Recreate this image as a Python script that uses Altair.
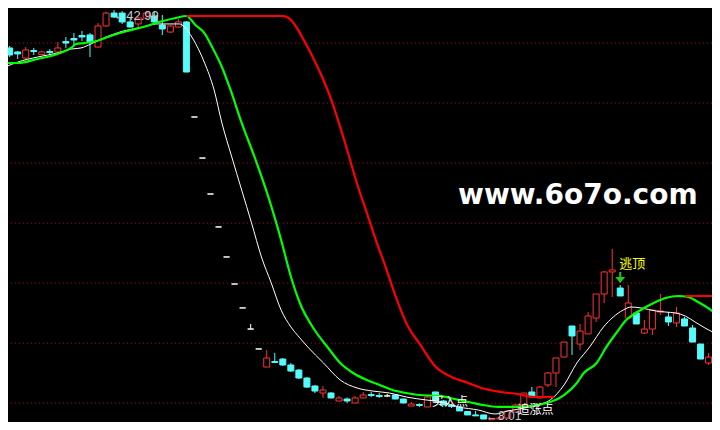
import altair as alt
import pandas as pd

# ---------------- data (prices) ----------------
opens = [39.75, 39.41, 38.89, 39.53, 39.19, 39.45, 39.41, 40.30, 40.56, 40.81,
         40.86, 39.83, 41.63, 42.73, 42.73, 41.97, 41.80, 42.31, 42.48, 41.71,
         41.11, 41.54, 41.97, 33.86, 30.36, 27.29, 24.48, 21.92, 19.61, 17.57,
         15.77, 14.07, 12.53, 13.00, 13.21, 12.70, 12.27, 11.59, 10.91, 10.31,
         10.31, 9.63, 9.80, 9.46, 9.89, 10.18, 10.10, 10.06, 10.14, 9.80,
         9.20, 9.33, 9.12, 10.40, 9.63, 9.25, 9.12, 8.73, 8.44, 8.44,
         8.03, 8.09, 8.18, 8.69, 9.29, 10.40, 9.89, 11.00, 12.02, 13.38,
         16.03, 14.49, 15.35, 16.71, 18.76, 20.64, 19.27, 16.71, 17.14, 15.43,
         15.77, 17.22, 16.80, 16.29, 16.63, 15.86, 14.49, 12.87]
highs = [39.92, 39.49, 39.83, 39.75, 39.49, 39.66, 40.26, 40.69, 41.03, 41.20,
         41.03, 41.88, 42.86, 42.99, 42.90, 42.31, 42.39, 42.88, 42.82, 42.56,
         41.71, 42.22, 42.05, 33.86, 30.36, 27.29, 24.48, 21.92, 19.61, 17.57,
         16.20, 14.07, 13.98, 13.73, 13.30, 12.87, 12.36, 11.68, 11.00, 10.91,
         10.40, 10.06, 9.93, 10.06, 10.40, 10.40, 10.31, 10.23, 10.16, 9.82,
         9.54, 9.42, 10.14, 10.42, 9.72, 9.37, 9.20, 8.78, 8.78, 8.46,
         8.20, 8.24, 8.86, 9.37, 10.31, 10.82, 10.91, 12.10, 13.30, 14.66,
         16.03, 16.20, 17.22, 18.76, 20.72, 22.60, 19.53, 19.53, 17.31, 16.54,
         17.39, 18.76, 17.22, 17.65, 16.80, 16.11, 14.51, 13.73]
lows = [38.98, 38.81, 38.72, 39.15, 39.15, 39.15, 39.32, 39.75, 40.00, 40.35,
        38.98, 39.80, 41.54, 42.31, 41.80, 41.50, 41.54, 42.22, 41.71, 40.86,
        41.03, 41.50, 37.70, 33.86, 30.36, 27.29, 24.48, 21.92, 19.61, 17.57,
        15.77, 14.07, 12.53, 12.87, 12.62, 12.10, 11.51, 10.74, 10.31, 9.89,
        9.86, 9.63, 9.46, 9.46, 9.89, 9.97, 9.89, 9.97, 9.78, 9.44,
        9.20, 9.12, 9.12, 9.63, 9.29, 9.03, 8.78, 8.44, 8.35, 8.09,
        8.01, 8.05, 8.09, 8.69, 9.20, 9.89, 9.89, 10.82, 10.82, 13.38,
        13.56, 13.98, 15.35, 16.37, 17.99, 18.50, 18.59, 16.71, 16.20, 15.35,
        15.26, 16.97, 16.03, 15.94, 16.03, 14.66, 13.21, 12.70]
closes = [39.15, 39.24, 39.58, 39.45, 39.41, 39.36, 39.75, 40.17, 40.43, 40.69,
          40.26, 41.63, 42.73, 42.39, 41.97, 41.54, 42.31, 42.73, 41.97, 41.37,
          41.63, 41.97, 37.70, 33.86, 30.36, 27.29, 24.48, 21.92, 19.61, 17.57,
          15.77, 14.07, 13.30, 12.92, 12.70, 12.19, 11.59, 10.82, 10.48, 10.57,
          9.89, 9.89, 9.63, 9.89, 10.14, 10.10, 10.01, 10.06, 9.80, 9.46,
          9.37, 9.25, 9.97, 9.63, 9.29, 9.16, 8.78, 8.44, 8.36, 8.09,
          8.12, 8.18, 8.78, 9.29, 10.31, 9.97, 10.82, 12.02, 13.30, 14.66,
          15.18, 15.60, 16.88, 18.76, 20.64, 20.81, 18.59, 17.99, 16.20, 15.77,
          17.39, 17.31, 16.37, 17.14, 16.03, 14.66, 13.21, 13.38]

# white moving line (bar position, price)
white_x = [-0.56, 1.03, 3.48, 5.94, 7.66, 8.88, 10.11, 11.71, 14.17, 16.61,
           18.21, 19.93, 21.15, 21.77, 22.75, 24.22, 25.45, 26.42, 27.65, 28.88,
           30.11, 31.34, 32.56, 33.79, 35.02, 36.12, 37.10, 39.07, 41.15, 43.24,
           45.20, 47.29, 49.37, 51.83, 53.80, 55.88, 58.34, 60.42, 62.01, 64.10,
           65.69, 67.29, 69.01, 70.60, 72.20, 73.91, 75.14, 76.37, 77.35, 78.58,
           80.42, 81.64, 82.87, 84.10, 85.32, 86.55, 87.77]
white_y = [38.13, 38.55, 38.98, 39.32, 39.66, 39.75, 40.09, 40.60, 41.20, 41.54,
           41.80, 41.80, 41.80, 41.54, 40.60, 38.55, 36.16, 33.35, 30.45, 27.63,
           24.82, 21.92, 19.70, 17.39, 15.94, 15.01, 14.24, 12.87, 11.42, 10.74,
           10.48, 10.31, 9.97, 9.72, 9.54, 9.12, 8.86, 8.52, 8.78, 9.03,
           9.29, 9.72, 11.00, 12.87, 14.24, 15.94, 16.80, 17.39, 17.65, 17.57,
           17.31, 17.22, 17.14, 16.88, 16.37, 15.86, 15.43]

# green line
green_x = [-0.56, 1.03, 3.48, 5.94, 7.66, 8.27, 9.25, 10.85, 12.56, 14.17,
           16.61, 19.07, 20.66, 22.01, 23.12, 24.22, 25.20, 26.42, 27.41, 28.88,
           30.48, 32.20, 33.79, 35.02, 36.12, 37.96, 39.56, 41.15, 42.75, 44.47,
           46.06, 47.66, 49.37, 50.96, 53.42, 55.88, 58.34, 60.79, 63.24, 65.69,
           67.29, 69.01, 70.60, 71.46, 73.06, 74.28, 75.51, 76.74, 77.96, 79.19,
           80.42, 81.64, 83.24, 84.47, 85.69, 86.92, 87.77]
green_y = [38.47, 38.47, 38.81, 39.24, 39.75, 40.09, 40.17, 40.35, 40.77, 41.11,
           41.54, 42.05, 42.31, 42.48, 41.71, 41.03, 39.83, 38.13, 36.34, 33.35,
           30.45, 27.04, 23.37, 20.21, 17.99, 15.69, 14.24, 12.87, 12.02, 11.42,
           11.00, 10.57, 10.31, 10.14, 10.06, 9.72, 9.37, 9.12, 9.12, 9.29,
           9.54, 10.14, 11.17, 12.02, 12.87, 14.24, 15.43, 16.54, 17.14, 17.65,
           18.08, 18.42, 18.59, 18.50, 18.08, 17.57, 17.14]

# red line, two segments
red1_x = [22.01, 34.04, 35.02, 35.51, 36.61, 38.33, 40.05, 41.64, 43.37, 44.47,
          45.57, 46.80, 47.90, 49.62, 50.96, 53.05, 55.02, 57.10, 59.19, 61.15,
          63.24, 65.33, 67.79]
red1_y = [42.48, 42.48, 42.14, 41.71, 40.43, 38.13, 35.31, 31.90, 27.89, 25.67,
          23.37, 21.06, 18.84, 15.94, 14.58, 12.53, 11.68, 11.17, 10.65, 10.40,
          10.23, 9.97, 9.97]
red2_x = [84.10, 88.50]
red2_y = [18.59, 18.59]

grid_levels = [40.17, 35.05, 29.93, 24.81, 19.69, 14.57, 9.45]

# annotations
hi_label = {"x": 12.9, "y": 42.44, "text": "←42.99"}
lo_label = {"x": 59.3, "y": 8.39, "text": "←8.01"}
buy_label = {"x": 54.8, "y": 9.54, "text": "买入点"}
chase_label = {"x": 65.45, "y": 8.86, "text": "追涨点"}
top_label = {"x": 77.5, "y": 21.36, "text": "逃顶"}
arrow = {"x": 76.0, "y_top": 20.64, "y_head": 19.95}
watermark = {"x": 70.72, "y": 26.40, "text": "www.6o7o.com"}

# ---------------- chart ----------------
RED = "#ff3333"
CYAN = "#54fcfc"
WHITE = "#ffffff"

kinds = ["up" if c > o else ("down" if c < o else "flat") for o, c in zip(opens, closes)]
candles = pd.DataFrame({"i": list(range(len(opens))), "o": opens, "h": highs,
                        "l": lows, "c": closes, "kind": kinds})

xs = alt.Scale(domain=[0.417, 86.80], nice=False, zero=False)
ys = alt.Scale(domain=[7.838, 43.161], nice=False, zero=False)


def X(f):
    return alt.X(f, type="quantitative", scale=xs, axis=None)


def Y(f):
    return alt.Y(f, type="quantitative", scale=ys, axis=None)


kind_scale = alt.Scale(domain=["up", "down", "flat"], range=[RED, CYAN, WHITE])

grid = alt.Chart(pd.DataFrame({"g": grid_levels})).mark_rule(
    color="#b40000", strokeDash=[1, 3], strokeWidth=1
).encode(y=Y("g"))

wicks = alt.Chart(candles).mark_rule(strokeWidth=1, clip=True).encode(
    x=X("i"), y=Y("l"), y2="h",
    color=alt.Color("kind:N", scale=kind_scale, legend=None),
)

up_bodies = alt.Chart(candles).transform_filter(alt.datum.kind == "up").mark_bar(
    size=6, fill="black", stroke=RED, strokeWidth=1, clip=True
).encode(x=X("i"), y=Y("o"), y2="c")

other_bodies = alt.Chart(candles).transform_filter(alt.datum.kind != "up").mark_bar(
    size=6, strokeWidth=1, clip=True
).encode(
    x=X("i"), y=Y("o"), y2="c",
    fill=alt.Fill("kind:N", scale=kind_scale, legend=None),
    stroke=alt.Stroke("kind:N", scale=kind_scale, legend=None),
)

white_line = alt.Chart(pd.DataFrame({"x": white_x, "y": white_y})).mark_line(
    color=WHITE, strokeWidth=1, interpolate="monotone", clip=True
).encode(x=X("x"), y=Y("y"))

green_line = alt.Chart(pd.DataFrame({"x": green_x, "y": green_y})).mark_line(
    color="#00ff00", strokeWidth=2.2, interpolate="monotone", clip=True
).encode(x=X("x"), y=Y("y"))

red_df = pd.concat([
    pd.DataFrame({"x": red1_x, "y": red1_y, "seg": "a"}),
    pd.DataFrame({"x": red2_x, "y": red2_y, "seg": "b"}),
])
red_line = alt.Chart(red_df).mark_line(
    color="#ff0000", strokeWidth=2.2, interpolate="monotone", clip=True
).encode(x=X("x"), y=Y("y"), detail="seg:N")


def label(d, color, size, font, align="left", baseline="middle", weight="normal"):
    return alt.Chart(pd.DataFrame([d])).mark_text(
        color=color, fontSize=size, font=font, align=align, baseline=baseline,
        fontWeight=weight
    ).encode(x=X("x"), y=Y("y"), text="text:N")


hi_t = label(hi_label, "#c8c8c8", 13, "Liberation Sans")
lo_t = label(lo_label, "#c8c8c8", 12, "Liberation Sans")
buy_t = label(buy_label, WHITE, 12, "Noto Sans CJK SC", align="center")
chase_t = label(chase_label, WHITE, 12, "Noto Sans CJK SC", align="center")
top_t = label(top_label, "#ffff00", 13, "Noto Sans CJK SC", align="center")
wm_t = label(watermark, WHITE, 28, "DejaVu Sans", align="center",
             baseline="alphabetic", weight="bold")

arrow_df = pd.DataFrame([arrow])
arrow_shaft = alt.Chart(arrow_df).mark_rule(color="#1ec81e", strokeWidth=2).encode(
    x=X("x"), y=Y("y_top"), y2="y_head"
)
arrow_head = alt.Chart(arrow_df).mark_point(
    shape="M-1,-0.6L1,-0.6L0,0.6Z", filled=True, color="#1ec81e", size=100, opacity=1
).encode(x=X("x"), y=Y("y_head"))

chart = alt.layer(
    grid, wicks, up_bodies, other_bodies, white_line, green_line, red_line,
    arrow_shaft, arrow_head, hi_t, lo_t, buy_t, chase_t, top_t, wm_t
).properties(
    width=704, height=414,
    autosize=alt.AutoSizeParams(type="none"),
    padding=0, background="black",
).configure_view(stroke=None)

chart.save("out.html", embed_options={"renderer": "svg", "actions": False})
